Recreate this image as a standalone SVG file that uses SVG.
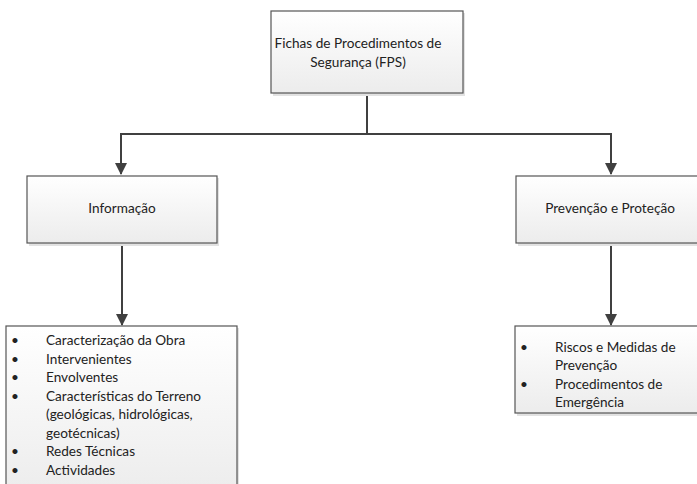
<svg xmlns="http://www.w3.org/2000/svg" width="697" height="484" viewBox="0 0 697 484">
<defs>
<linearGradient id="g" x1="0" y1="0" x2="0" y2="1">
<stop offset="0" stop-color="#ffffff"/>
<stop offset="1" stop-color="#ececec"/>
</linearGradient>
<marker id="arr" markerWidth="12" markerHeight="12" viewBox="0 0 12 12" refX="11" refY="6" orient="auto" markerUnits="userSpaceOnUse">
<path d="M0,0 L12,6 L0,12 Z" fill="#404040"/>
</marker>
<style>
.box{fill:url(#g);stroke:#555;stroke-width:1.2}
.shd{fill:#e2e2e2}
.t{font-family:Lato,"Open Sans","Liberation Sans",sans-serif;font-size:13.6px;fill:#222}
.c{stroke:#404040;stroke-width:2;fill:none}
</style>
</defs>
<rect width="697" height="484" fill="#fff"/>
<g id="connectors">
<path class="c" d="M367,93 V134 H121 V174" marker-end="url(#arr)"/>
<path class="c" d="M367,134 H611 V174" marker-end="url(#arr)"/>
<path class="c" d="M122,243 V325" marker-end="url(#arr)"/>
<path class="c" d="M611,243 V325" marker-end="url(#arr)"/>
</g>
<g id="fps">
<rect class="shd" x="273" y="13" width="192" height="83"/>
<rect class="box" x="271" y="11" width="192" height="82"/>
<text class="t" text-anchor="middle" x="358" y="48">Fichas de Procedimentos de</text>
<text class="t" text-anchor="middle" x="358" y="67">Segurança (FPS)</text>
</g>
<g id="informacao">
<rect class="shd" x="29" y="178" width="190" height="68"/>
<rect class="box" x="27" y="176" width="190" height="67"/>
<text class="t" text-anchor="middle" x="122" y="213">Informação</text>
</g>
<g id="prevencao">
<rect class="shd" x="518" y="178" width="190" height="68"/>
<rect class="box" x="516" y="176" width="190" height="67"/>
<text class="t" text-anchor="middle" x="610" y="213">Prevenção e Proteção</text>
</g>
<g id="lista-informacao">
<rect class="shd" x="8" y="328" width="231" height="170"/>
<rect class="box" x="6" y="326" width="231" height="170"/>
<g class="t">
<text x="11" y="345">•</text><text x="46" y="345">Caracterização da Obra</text>
<text x="11" y="364">•</text><text x="46" y="364">Intervenientes</text>
<text x="11" y="382">•</text><text x="46" y="382">Envolventes</text>
<text x="11" y="401">•</text><text x="46" y="401">Características do Terreno</text>
<text x="46" y="419">(geológicas, hidrológicas,</text>
<text x="46" y="438">geotécnicas)</text>
<text x="11" y="456">•</text><text x="46" y="456">Redes Técnicas</text>
<text x="11" y="475">•</text><text x="46" y="475">Actividades</text>
</g>
</g>
<g id="lista-prevencao">
<rect class="shd" x="517" y="328" width="190" height="88"/>
<rect class="box" x="515" y="326" width="190" height="87"/>
<g class="t">
<text x="520" y="352">•</text><text x="555" y="352">Riscos e Medidas de</text>
<text x="555" y="370">Prevenção</text>
<text x="520" y="389">•</text><text x="555" y="389">Procedimentos de</text>
<text x="555" y="407">Emergência</text>
</g>
</g>
</svg>
